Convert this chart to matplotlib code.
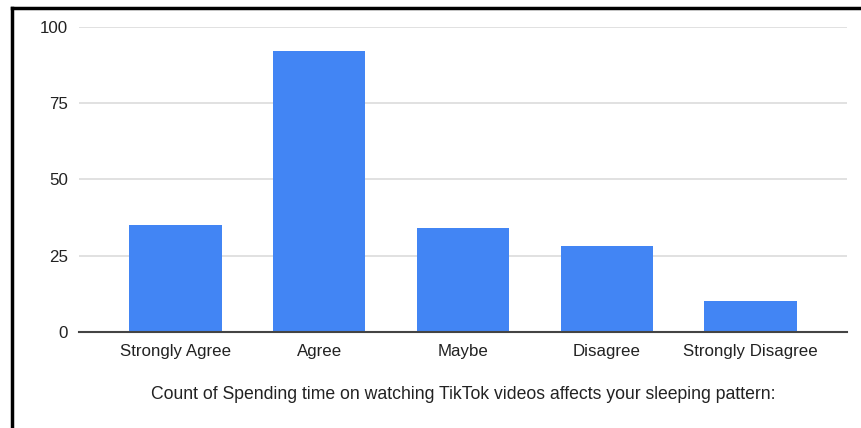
import matplotlib.pyplot as plt
from matplotlib.lines import Line2D

plt.rcParams['font.family'] = ['Liberation Sans', 'DejaVu Sans']

categories = ['Strongly Agree', 'Agree', 'Maybe', 'Disagree', 'Strongly Disagree']
counts = [35, 92, 34, 28, 10]
yticks = [0, 25, 50, 75, 100]
xlabel = 'Count of Spending time on watching TikTok videos affects your sleeping pattern:'

fig = plt.figure(figsize=(8.62, 4.28), dpi=100)
ax = fig.add_axes([0.0916, 0.225, 0.891, 0.712])

x = range(len(categories))
ax.bar(x, counts, width=0.643, color='#4285f4', zorder=3)

ax.set_xlim(-0.67, len(categories) - 1 + 0.67)
ax.set_ylim(0, 100)
ax.set_yticks(yticks)
ax.set_xticks(list(x))
ax.set_xticklabels(categories)

ax.grid(axis='y', color='#d9d9d9', linewidth=1.1, zorder=0)
for s in ['top', 'right', 'left']:
    ax.spines[s].set_visible(False)
ax.spines['bottom'].set_color('#444444')
ax.spines['bottom'].set_linewidth(1.5)
ax.spines['bottom'].set_zorder(4)
ax.tick_params(axis='both', length=0, labelsize=12.2, colors='#222222')
ax.tick_params(axis='y', pad=8)
ax.tick_params(axis='x', pad=9)

ax.set_xlabel(xlabel, fontsize=12.7, color='#222222', labelpad=19)

# screenshot frame (top and left edges)
fig.add_artist(Line2D([12.5 / 862, 1], [1 - 8 / 428, 1 - 8 / 428],
                      color='black', linewidth=2.5, transform=fig.transFigure))
fig.add_artist(Line2D([12 / 862, 12 / 862], [0, 1 - 8 / 428],
                      color='black', linewidth=2.5, transform=fig.transFigure))

fig.savefig('out.png', dpi=100)
